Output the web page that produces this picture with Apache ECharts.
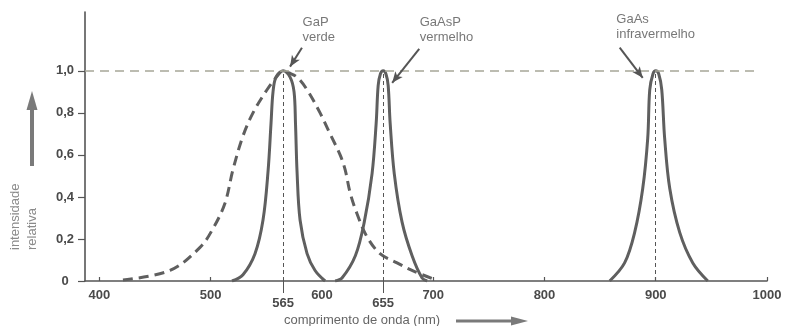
<!DOCTYPE html>
<html>
<head>
<meta charset="utf-8">
<script src="https://cdn.jsdelivr.net/npm/echarts@6/dist/echarts.min.js"></script>
<style>
  html, body { margin: 0; padding: 0; background: #fff; }
  #chart { width: 793px; height: 326px; }
</style>
</head>
<body>
<div id="chart"></div>
<script>
// ---- data (wavelength in nm, relative intensity) ----
const gapSolidX = [519.1, 529.0, 539.8, 547.0, 551.5, 554.2, 556.0, 558.7, 565, 571.3, 574.9, 576.2, 577.6, 580.3, 586.6, 593.8, 602.8];
const gapSolidY = [0, 0.03, 0.13, 0.29, 0.52, 0.75, 0.9, 0.97, 1.0, 0.97, 0.9, 0.75, 0.52, 0.29, 0.13, 0.05, 0];

const gapDashX = [421.1, 463.4, 490.4, 502.1, 512.8, 520.0, 529.0, 538.0, 550.6, 560.5, 565, 570.4, 577.6, 586.6, 598.3, 607.3, 616.3, 620.8, 625.3, 631.5, 640.5, 652.2, 667.5, 681.9, 699.9];
const gapDashY = [0.005, 0.05, 0.16, 0.25, 0.37, 0.53, 0.69, 0.80, 0.91, 0.98, 1.0, 0.99, 0.97, 0.91, 0.80, 0.70, 0.60, 0.53, 0.42, 0.32, 0.21, 0.13, 0.086, 0.048, 0.01];

const gaAsPX = [611.8, 618, 630, 638, 645, 648.7, 650.5, 652.5, 655, 657.5, 659.5, 661.3, 665, 672, 681, 690, 694.6];
const gaAsPY = [0, 0.014, 0.12, 0.28, 0.51, 0.75, 0.93, 0.985, 1, 0.985, 0.93, 0.75, 0.51, 0.28, 0.12, 0.014, 0];

const gaAsX = [858.6, 872, 881, 888.3, 892.8, 894.6, 897.5, 900, 902.7, 905.4, 908, 912.6, 921.6, 933.3, 946.8];
const gaAsY = [0, 0.086, 0.23, 0.44, 0.68, 0.91, 0.985, 1, 0.985, 0.91, 0.68, 0.44, 0.23, 0.086, 0];

const xTickValues = [400, 500, 600, 700, 800, 900, 1000];
const peakTickValues = [565, 655];
const yTickValues = [0, 0.2, 0.4, 0.6, 0.8, 1.0];
const peakLines = [565, 655, 900];

const noteTexts = ['GaP\nverde', 'GaAsP\nvermelho', 'GaAs\ninfravermelho'];
const noteX = [583, 688.3, 865];
const noteY = [1.266, 1.266, 1.28];
const arrowFrom = [[582, 1.11], [687.4, 1.105], [867.6, 1.11]];
const arrowTo = [[571.3, 1.02], [663.1, 0.943], [888.3, 0.967]];

const yTitle = 'intensidade\nrelativa';
const xTitle = 'comprimento de onda (nm)';

// ---- build ----
const zip = (xs, ys) => xs.map((x, i) => [x, ys[i]]);
const FONT = 'Liberation Sans, Arial, sans-serif';
const curveColor = '#5f5f5f';
const SMOOTH = 0.35;

const chart = echarts.init(document.getElementById('chart'), null, { renderer: 'canvas' });

const xMin = 387, xMax = 1000;
const labelStyle = { color: '#4a4a4a', fontFamily: FONT, fontSize: 13, fontWeight: 'bold' };

chart.setOption({
  backgroundColor: '#ffffff',
  animation: false,
  grid: { left: 85, right: 26, top: 12, bottom: 45, containLabel: false },
  xAxis: [
    {
      type: 'value', min: xMin, max: xMax, position: 'bottom',
      axisLine: { show: true, lineStyle: { color: '#555', width: 1.6 } },
      axisTick: { show: true, inside: true, length: 4, customValues: xTickValues, lineStyle: { color: '#555', width: 1.2 } },
      axisLabel: Object.assign({ show: true, customValues: xTickValues, margin: 8, formatter: v => String(v) }, labelStyle),
      splitLine: { show: false }
    },
    {
      type: 'value', min: xMin, max: xMax, position: 'bottom', offset: 0,
      axisLine: { show: false },
      axisTick: { show: true, inside: false, length: 12, customValues: peakTickValues, lineStyle: { color: '#555', width: 1 } },
      axisLabel: Object.assign({ show: true, customValues: peakTickValues, margin: 16, formatter: v => String(v) }, labelStyle),
      splitLine: { show: false }
    }
  ],
  yAxis: {
    type: 'value', min: 0, max: 1.28,
    axisLine: { show: true, lineStyle: { color: '#555', width: 1.6 } },
    axisTick: { show: true, inside: false, length: 7, customValues: yTickValues, lineStyle: { color: '#555', width: 1.2 } },
    axisLabel: Object.assign({
      show: true, customValues: yTickValues, margin: 20, align: 'center',
      formatter: v => (v === 0 ? '0' : v.toFixed(1).replace('.', ','))
    }, labelStyle),
    splitLine: { show: false }
  },
  series: [
    {
      name: 'GaP (largo)', type: 'line', data: zip(gapDashX, gapDashY),
      smooth: SMOOTH, showSymbol: false, silent: true,
      lineStyle: { color: curveColor, width: 3, type: [10, 6], cap: 'butt' },
      markLine: {
        silent: true, symbol: 'none', animation: false,
        label: { show: false },
        lineStyle: { color: '#a6a698', width: 1.5, type: [9, 6] },
        data: [[{ coord: [xMin, 1] }, { coord: [990, 1] }]]
      }
    },
    {
      name: 'GaP verde', type: 'line', data: zip(gapSolidX, gapSolidY),
      smooth: SMOOTH, showSymbol: false, silent: true,
      lineStyle: { color: curveColor, width: 3 },
      markLine: {
        silent: true, symbol: 'none', animation: false,
        label: { show: false },
        lineStyle: { color: '#555', width: 1, type: [4, 3] },
        data: peakLines.map(p => [{ coord: [p, 0] }, { coord: [p, 1] }])
      }
    },
    {
      name: 'GaAsP vermelho', type: 'line', data: zip(gaAsPX, gaAsPY),
      smooth: SMOOTH, showSymbol: false, silent: true,
      lineStyle: { color: curveColor, width: 3 }
    },
    {
      name: 'GaAs infravermelho', type: 'line', data: zip(gaAsX, gaAsY),
      smooth: SMOOTH, showSymbol: false, silent: true,
      lineStyle: { color: curveColor, width: 3 },
      markLine: {
        silent: true, animation: false,
        symbol: ['none', 'arrow'], symbolSize: [7, 11],
        label: { show: false },
        lineStyle: { color: '#555', width: 2, type: 'solid' },
        data: arrowFrom.map((a, i) => [{ coord: a }, { coord: arrowTo[i] }])
      }
    },
    {
      name: 'notas', type: 'scatter', silent: true,
      symbolSize: 1, itemStyle: { color: 'rgba(0,0,0,0)' },
      data: noteX.map((x, i) => ({ value: [x, noteY[i]], name: noteTexts[i] })),
      label: {
        show: true, position: [0, 0], align: 'left', verticalAlign: 'top',
        formatter: p => p.name, color: '#555', fontFamily: FONT, fontSize: 13, lineHeight: 15
      },
      labelLayout: { hideOverlap: false }
    }
  ],
  graphic: [
    {
      type: 'text', x: 7, y: 250, rotation: Math.PI / 2,
      style: { text: yTitle, fill: '#8a8a8a', font: '13px ' + FONT, align: 'left', verticalAlign: 'top', lineHeight: 17 }
    },
    { type: 'line', shape: { x1: 32, y1: 166, x2: 32, y2: 106 }, style: { stroke: '#7a7a7a', lineWidth: 4 } },
    { type: 'polygon', shape: { points: [[26.5, 110], [37.5, 110], [32, 91]] }, style: { fill: '#7a7a7a' } },
    {
      type: 'text', x: 284, y: 320,
      style: { text: xTitle, fill: '#666', font: '13px ' + FONT, align: 'left', verticalAlign: 'middle' }
    },
    { type: 'line', shape: { x1: 456, y1: 321, x2: 514, y2: 321 }, style: { stroke: '#7a7a7a', lineWidth: 3 } },
    { type: 'polygon', shape: { points: [[511, 316.5], [511, 325.5], [528, 321]] }, style: { fill: '#7a7a7a' } }
  ]
});
</script>
</body>
</html>
